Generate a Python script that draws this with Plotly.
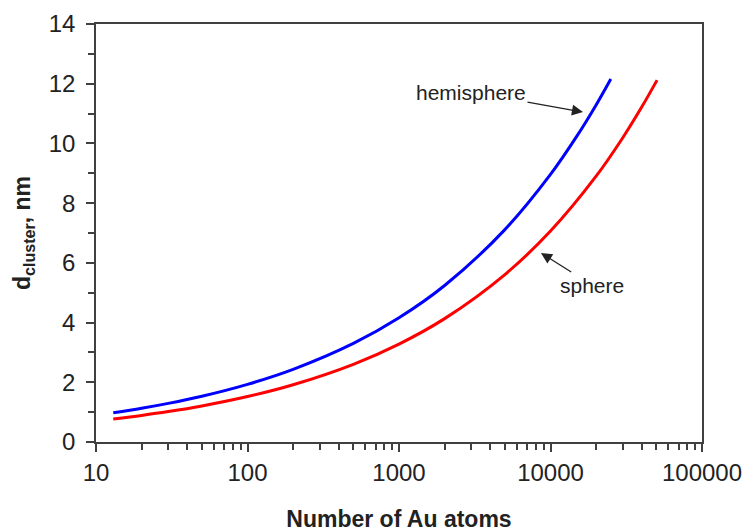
import plotly.graph_objects as go

# Data
hemi_n = [13, 20, 30, 50, 100, 200, 500, 1000, 2000, 5000, 10000, 15000, 20000, 25000]
hemi_d = [0.978, 1.129, 1.293, 1.533, 1.931, 2.433, 3.302, 4.160, 5.241, 7.114, 8.962, 10.26, 11.29, 12.16]
sphere_n = [13, 20, 30, 50, 100, 200, 500, 1000, 2000, 5000, 10000, 20000, 30000, 40000, 50500]
sphere_d = [0.771, 0.890, 1.019, 1.208, 1.522, 1.918, 2.603, 3.280, 4.132, 5.609, 7.066, 8.903, 10.192, 11.218, 12.12]

x_tickvals = [10, 100, 1000, 10000, 100000]
x_ticktext = ["10", "100", "1000", "10000", "100000"]
x_title = "Number of Au atoms"
y_title = "d<sub>cluster</sub>, nm"

FONT = "Liberation Sans, Arial, sans-serif"
AX = "#404040"

fig = go.Figure()
fig.add_trace(go.Scatter(x=hemi_n, y=hemi_d, mode="lines", line=dict(color="#0000FF", width=3, shape="spline"),
                         name="hemisphere", showlegend=False))
fig.add_trace(go.Scatter(x=sphere_n, y=sphere_d, mode="lines", line=dict(color="#FF0000", width=3, shape="spline"),
                         name="sphere", showlegend=False))

# labels with arrows (arrow tip at data point, text offset in pixels)
fig.add_annotation(x=4.2145, y=11.05, xref="x", yref="y", text="hemisphere", showarrow=True,
                   ax=-112, ay=-20, arrowhead=2, arrowsize=1.7, arrowwidth=1.3, arrowcolor="#222",
                   font=dict(family=FONT, size=21, color="#222"))
fig.add_annotation(x=3.937, y=6.33, xref="x", yref="y", text="sphere", showarrow=True,
                   ax=51, ay=32, arrowhead=2, arrowsize=1.7, arrowwidth=1.3, arrowcolor="#222",
                   font=dict(family=FONT, size=21, color="#222"))

fig.update_layout(
    width=746, height=532,
    margin=dict(l=96, r=44, t=24, b=90),
    paper_bgcolor="white", plot_bgcolor="white",
    font=dict(family=FONT, size=24, color="#222"),
)
fig.update_xaxes(
    type="log", range=[1, 5], tickvals=x_tickvals, ticktext=x_ticktext,
    showgrid=False, zeroline=False, automargin=False,
    showline=True, linecolor=AX, linewidth=1.5, mirror=True,
    ticks="outside", ticklen=8, tickwidth=1.5, tickcolor=AX,
    ticklabelstandoff=0,
    minor=dict(ticks="outside", ticklen=6, tickwidth=1.5, tickcolor=AX, dtick="D1", showgrid=False),
    title=dict(text="<b>" + x_title + "</b>", font=dict(size=23), standoff=35),
)
fig.update_yaxes(
    range=[0, 14], dtick=2,
    showgrid=False, zeroline=False, automargin=False,
    showline=True, linecolor=AX, linewidth=1.5, mirror=True,
    ticks="outside", ticklen=8, tickwidth=1.5, tickcolor=AX,
    ticklabelstandoff=6,
    minor=dict(ticks="outside", ticklen=6, tickwidth=1.5, tickcolor=AX, dtick=1, showgrid=False),
    title=dict(text="<b>" + y_title + "</b>", font=dict(size=23), standoff=12),
)

fig.write_html("out.html")
